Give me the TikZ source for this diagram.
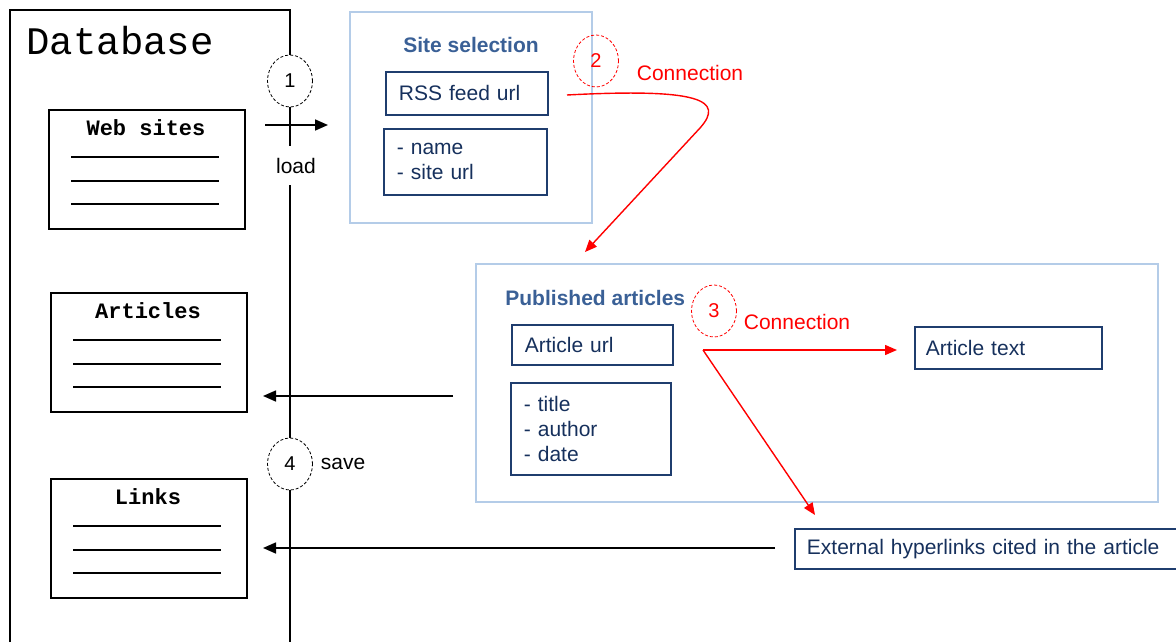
\documentclass[tikz,border=0pt]{standalone}
\usepackage{fontspec}
\setmainfont{Liberation Sans}
\newfontfamily\dbfont{Liberation Mono}
\usetikzlibrary{arrows.meta,shapes.geometric}

\definecolor{panelblue}{HTML}{B4CCE8}
\definecolor{titleblue}{HTML}{3A6096}
\definecolor{boxblue}{HTML}{1F3D6E}
\definecolor{textblue}{HTML}{16305C}

\tikzset{
  dbtable/.style={draw, line width=1pt, minimum width=98pt, minimum height=59.5pt, inner sep=0pt, anchor=north west},
  dbtitle/.style={font=\dbfont\bfseries\fontsize{11}{13}\selectfont, inner sep=0pt},
  panel/.style={draw=panelblue, line width=1pt, inner sep=0pt},
  paneltitle/.style={font=\bfseries\fontsize{10.5}{12}\selectfont, text=titleblue, inner sep=0pt},
  field/.style={draw=boxblue, line width=0.9pt, text=textblue, font=\fontsize{10.5}{12.5}\selectfont,
    align=left, anchor=north west, inner xsep=6.5pt, inner ysep=0pt},
  stepmark/.style={ellipse, draw, dash pattern=on 1.5pt off 1pt, thin, minimum width=22.5pt, minimum height=26pt,
    inner sep=0pt, font=\fontsize{10}{12}\selectfont},
  flow/.style={line width=0.8pt, -{Triangle[length=6.5pt,width=5.5pt]}},
  link/.style={red, line width=0.7pt, -{Triangle[length=6pt,width=5pt]}},
}

\begin{document}
\begin{tikzpicture}[x=0.5pt, y=-0.5pt]
\useasboundingbox (0,0) rectangle (1176,642);

% database side
\node[anchor=west, inner sep=0pt, font=\dbfont\fontsize{19.5}{21}\selectfont] (db) at (26,41) {Database};
\foreach \n/\t/\x/\top in {ws/Web sites/48/109, art/Articles/50/292, lnk/Links/50/478} {
  \node[dbtable] (\n) at (\x,\top) {};
  \node[dbtitle] (\n t) at (\x+98,\top+19) {\t};
  \foreach \dy in {48,72,95}
    \draw[line width=0.7pt] (\x+23,\top+\dy) -- (\x+171,\top+\dy);
}

\node[stepmark] (c1) at (290,81) {1};
\node[stepmark] (c4) at (290,464) {4};
\node[inner sep=0pt, minimum height=19.5pt, font=\fontsize{10.5}{12}\selectfont] (load) at (296,165.5) {load};
\node[inner sep=0pt, font=\fontsize{10.5}{12}\selectfont] (save) at (343,464) {save};

\draw[line width=1pt] (10,642) -- (10,10) -- (290,10) -- (c1.north);
\draw[line width=1pt] (c1.south) -- (c1.south |- load.north);
\draw[line width=1pt] (c1.south |- load.south) -- (c4.north);
\draw[line width=1pt] (c4.south) -- (290,642);

% site selection
\node[panel, minimum width=121pt, minimum height=105.5pt] (site) at (471,117.5) {};
\node[paneltitle] (sitet) at (471,45) {Site selection};
\node[field, text width=68pt, minimum height=21.5pt] (rss) at (385,71) {RSS feed url};
\node[field, text width=68.5pt, minimum height=33pt] (sitef) at (383,128) {- name\\- site url};

% published articles
\node[panel, minimum width=341pt, minimum height=119pt] (pub) at (817,383) {};
\node[paneltitle, anchor=west] (pubt) at (505,298) {Published articles};
\node[field, text width=67.5pt, minimum height=20pt] (aurl) at (511,324) {Article url};
\node[field, text width=67pt, minimum height=46pt] (artf) at (510,382) {- title\\- author\\- date};
\node[field, text width=82.5pt, minimum height=21pt, inner xsep=5.5pt] (atext) at (914,326) {Article text};
\node[field, text width=180pt, minimum height=20pt, inner xsep=6pt] (ext) at (794,528) {External hyperlinks cited in the article};

% steps 2 and 3
\node[stepmark, red] (c2) at (596,61) {2};
\node[stepmark, red] (c3) at (714,311) {3};
\node[red, inner sep=0pt, font=\fontsize{10.5}{12}\selectfont] (con2) at (690,73) {Connection};
\node[red, inner sep=0pt, font=\fontsize{10.5}{12}\selectfont] (con3) at (797,322) {Connection};

\coordinate (loadsrc) at (265,125);
\coordinate (loaddst) at (328,125);
\coordinate (rssout) at (567,95);
\coordinate (pubin) at (585,252);
\coordinate (aout) at (703,350);
\coordinate (atin) at (897,350);
\coordinate (extin) at (815,515);
\coordinate (artsrc) at (453,396);
\coordinate (artdst) at (263,396);
\coordinate (lnksrc) at (775,548);
\coordinate (lnkdst) at (263,548);

\draw[flow] (loadsrc) -- (loaddst);
\draw[flow] (artsrc) -- (artdst);
\draw[flow] (lnksrc) -- (lnkdst);

\draw[link] (rssout) .. controls (700,88) and (725,100) .. (700,128) -- (pubin);
\draw[link] (aout) -- (atin);
\draw[link] (aout) -- (extin);
\end{tikzpicture}
\end{document}
